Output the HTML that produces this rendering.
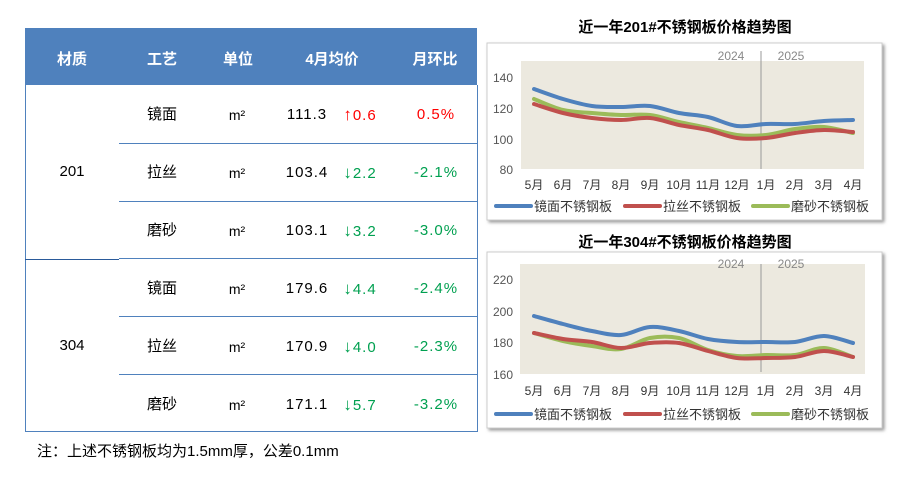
<!DOCTYPE html>
<html><head><meta charset="utf-8"><style>
body{margin:0;width:900px;height:488px;background:#fff;position:relative;overflow:hidden;font-family:"Liberation Sans","Noto Sans CJK SC",sans-serif;}
.t{position:absolute;}
.hd{position:absolute;left:25px;top:28px;width:452px;height:57px;background:#4f81bd;}
.h{position:absolute;top:48px;color:#fff;font-weight:bold;font-size:15px;transform:translateX(-50%);white-space:nowrap;}
.c{position:absolute;font-size:15px;height:20px;line-height:20px;transform:translateX(-50%);white-space:nowrap;color:#000;}
.ln{position:absolute;height:1px;background:#4f81bd;}
.r{color:#ff0000}.g{color:#00a050}
.a{font-weight:bold;font-size:17px}
</style></head><body>
<div class="hd"></div>
<div class="h" style="left:72px">材质</div>
<div class="h" style="left:162px">工艺</div>
<div class="h" style="left:238px">单位</div>
<div class="h" style="left:332px">4月均价</div>
<div class="h" style="left:435px">月环比</div>
<div style="position:absolute;left:25px;top:85px;width:451px;height:346px;border:1px solid #4f81bd;border-top:none;"></div>
<div class="ln" style="left:119px;top:143px;width:358px"></div>
<div class="ln" style="left:119px;top:201px;width:358px"></div>
<div class="ln" style="left:25px;top:259px;width:94px;background:#2a5a9a"></div>
<div class="ln" style="left:119px;top:258px;width:358px"></div>
<div class="ln" style="left:119px;top:316px;width:358px"></div>
<div class="ln" style="left:119px;top:374px;width:358px"></div>
<div id="rows"></div>
<div class="t" style="left:37px;top:440px;font-size:15px">注：上述不锈钢板均为1.5mm厚，公差0.1mm</div>

<svg width="900" height="488" style="position:absolute;left:0;top:0" font-family="Liberation Sans,Noto Sans CJK SC,sans-serif">
<defs><filter id="sh"><feDropShadow dx="2" dy="2" stdDeviation="1.5" flood-color="#999"/></filter></defs>
<text x="685" y="32" font-size="15" font-weight="bold" text-anchor="middle">近一年201#不锈钢板价格趋势图</text>
<rect x="487" y="43" width="395" height="177" fill="#fff" stroke="#ccc" filter="url(#sh)"/>
<rect x="521" y="61" width="343" height="108" fill="#ece9df"/>
<text x="513" y="82" font-size="12" fill="#555" text-anchor="end">140</text>
<text x="513" y="113" font-size="12" fill="#555" text-anchor="end">120</text>
<text x="513" y="144" font-size="12" fill="#555" text-anchor="end">100</text>
<text x="513" y="174" font-size="12" fill="#555" text-anchor="end">80</text>
<line x1="761" y1="51" x2="761" y2="169" stroke="#999"/>
<text x="731" y="60" font-size="12" fill="#888" text-anchor="middle">2024</text>
<text x="791" y="60" font-size="12" fill="#888" text-anchor="middle">2025</text>
<g id="c1"></g>
<text x="685" y="247" font-size="15" font-weight="bold" text-anchor="middle">近一年304#不锈钢板价格趋势图</text>
<rect x="487" y="252" width="395" height="176" fill="#fff" stroke="#ccc" filter="url(#sh)"/>
<rect x="520" y="264" width="345" height="110" fill="#ece9df"/>
<text x="513" y="284" font-size="12" fill="#555" text-anchor="end">220</text>
<text x="513" y="316" font-size="12" fill="#555" text-anchor="end">200</text>
<text x="513" y="347" font-size="12" fill="#555" text-anchor="end">180</text>
<text x="513" y="379" font-size="12" fill="#555" text-anchor="end">160</text>
<line x1="761" y1="264" x2="761" y2="372" stroke="#999"/>
<text x="731" y="268" font-size="12" fill="#888" text-anchor="middle">2024</text>
<text x="791" y="268" font-size="12" fill="#888" text-anchor="middle">2025</text>
<g id="c2"></g>
</svg>
<script>
var rows=[["镜面","111.3","↑","0.6","0.5%",1],["拉丝","103.4","↓","2.2","-2.1%",0],["磨砂","103.1","↓","3.2","-3.0%",0],["镜面","179.6","↓","4.4","-2.4%",0],["拉丝","170.9","↓","4.0","-2.3%",0],["磨砂","171.1","↓","5.7","-3.2%",0]];
var h="";rows.forEach(function(r,i){var y=105+i*58;var cl=r[5]?"r":"g";
h+='<div class="c" style="left:162px;top:'+y+'px">'+r[0]+'</div><div class="c" style="left:237px;top:'+y+'px;font-size:14px">m²</div><div class="c" style="left:307px;top:'+y+'px;letter-spacing:1px">'+r[1]+'</div><div class="c '+cl+'" style="left:360px;top:'+y+'px;letter-spacing:1px"><span class="a">'+r[2]+'</span>'+r[3]+'</div><div class="c '+cl+'" style="left:436px;top:'+y+'px;letter-spacing:1px">'+r[4]+'</div>';});
h+='<div class="c" style="left:72px;top:162px">201</div><div class="c" style="left:72px;top:336px">304</div>';
document.getElementById('rows').innerHTML=h;
var M=["5月","6月","7月","8月","9月","10月","11月","12月","1月","2月","3月","4月"];
function path(ys){var xs=ys.map(function(_,i){return 534+i*29;});var d="M"+xs[0]+","+ys[0];
for(var i=0;i<ys.length-1;i++){var x0=xs[Math.max(i-1,0)],y0=ys[Math.max(i-1,0)],x3=xs[Math.min(i+2,ys.length-1)],y3=ys[Math.min(i+2,ys.length-1)];
d+=" C"+(xs[i]+(xs[i+1]-x0)/6)+","+(ys[i]+(ys[i+1]-y0)/6)+" "+(xs[i+1]-(x3-xs[i])/6)+","+(ys[i+1]-(y3-ys[i])/6)+" "+xs[i+1]+","+ys[i+1];}return d;}
function chart(id,S,ly,xy){var g="";var cols=["#4f81bd","#c0504d","#9bbb59"];
[2,1,0].forEach(function(k){g+='<path d="'+path(S[k])+'" fill="none" stroke="'+cols[k]+'" stroke-width="4" stroke-linecap="round"/>';});
M.forEach(function(m,i){g+='<text x="'+(534+i*29)+'" y="'+xy+'" font-size="12" fill="#333" text-anchor="middle">'+m+'</text>';});
var L=["镜面不锈钢板","拉丝不锈钢板","磨砂不锈钢板"],lx=[496,625,753];
L.forEach(function(t,k){g+='<line x1="'+lx[k]+'" y1="'+ly+'" x2="'+(lx[k]+35)+'" y2="'+ly+'" stroke="'+cols[k]+'" stroke-width="4" stroke-linecap="round"/><text x="'+(lx[k]+38)+'" y="'+(ly+5)+'" font-size="13" fill="#333">'+t+'</text>';});
document.getElementById(id).innerHTML=g;}
chart('c1',[[89,99,106,107,106,113,117,126,124,124,121,120],[104,113,118,120,118,125,130,138,138,133,130,132],[99,110,113,115,115,122,128,135,135,129,127,133]],206,189);
chart('c2',[[316,324,331,335,327,331,339,342,342,342,336,343],[333,339,342,348,343,343,351,358,358,357,351,357],[333,341,346,349,338,338,350,356,355,355,348,357]],414,395);
</script>
</body></html>
